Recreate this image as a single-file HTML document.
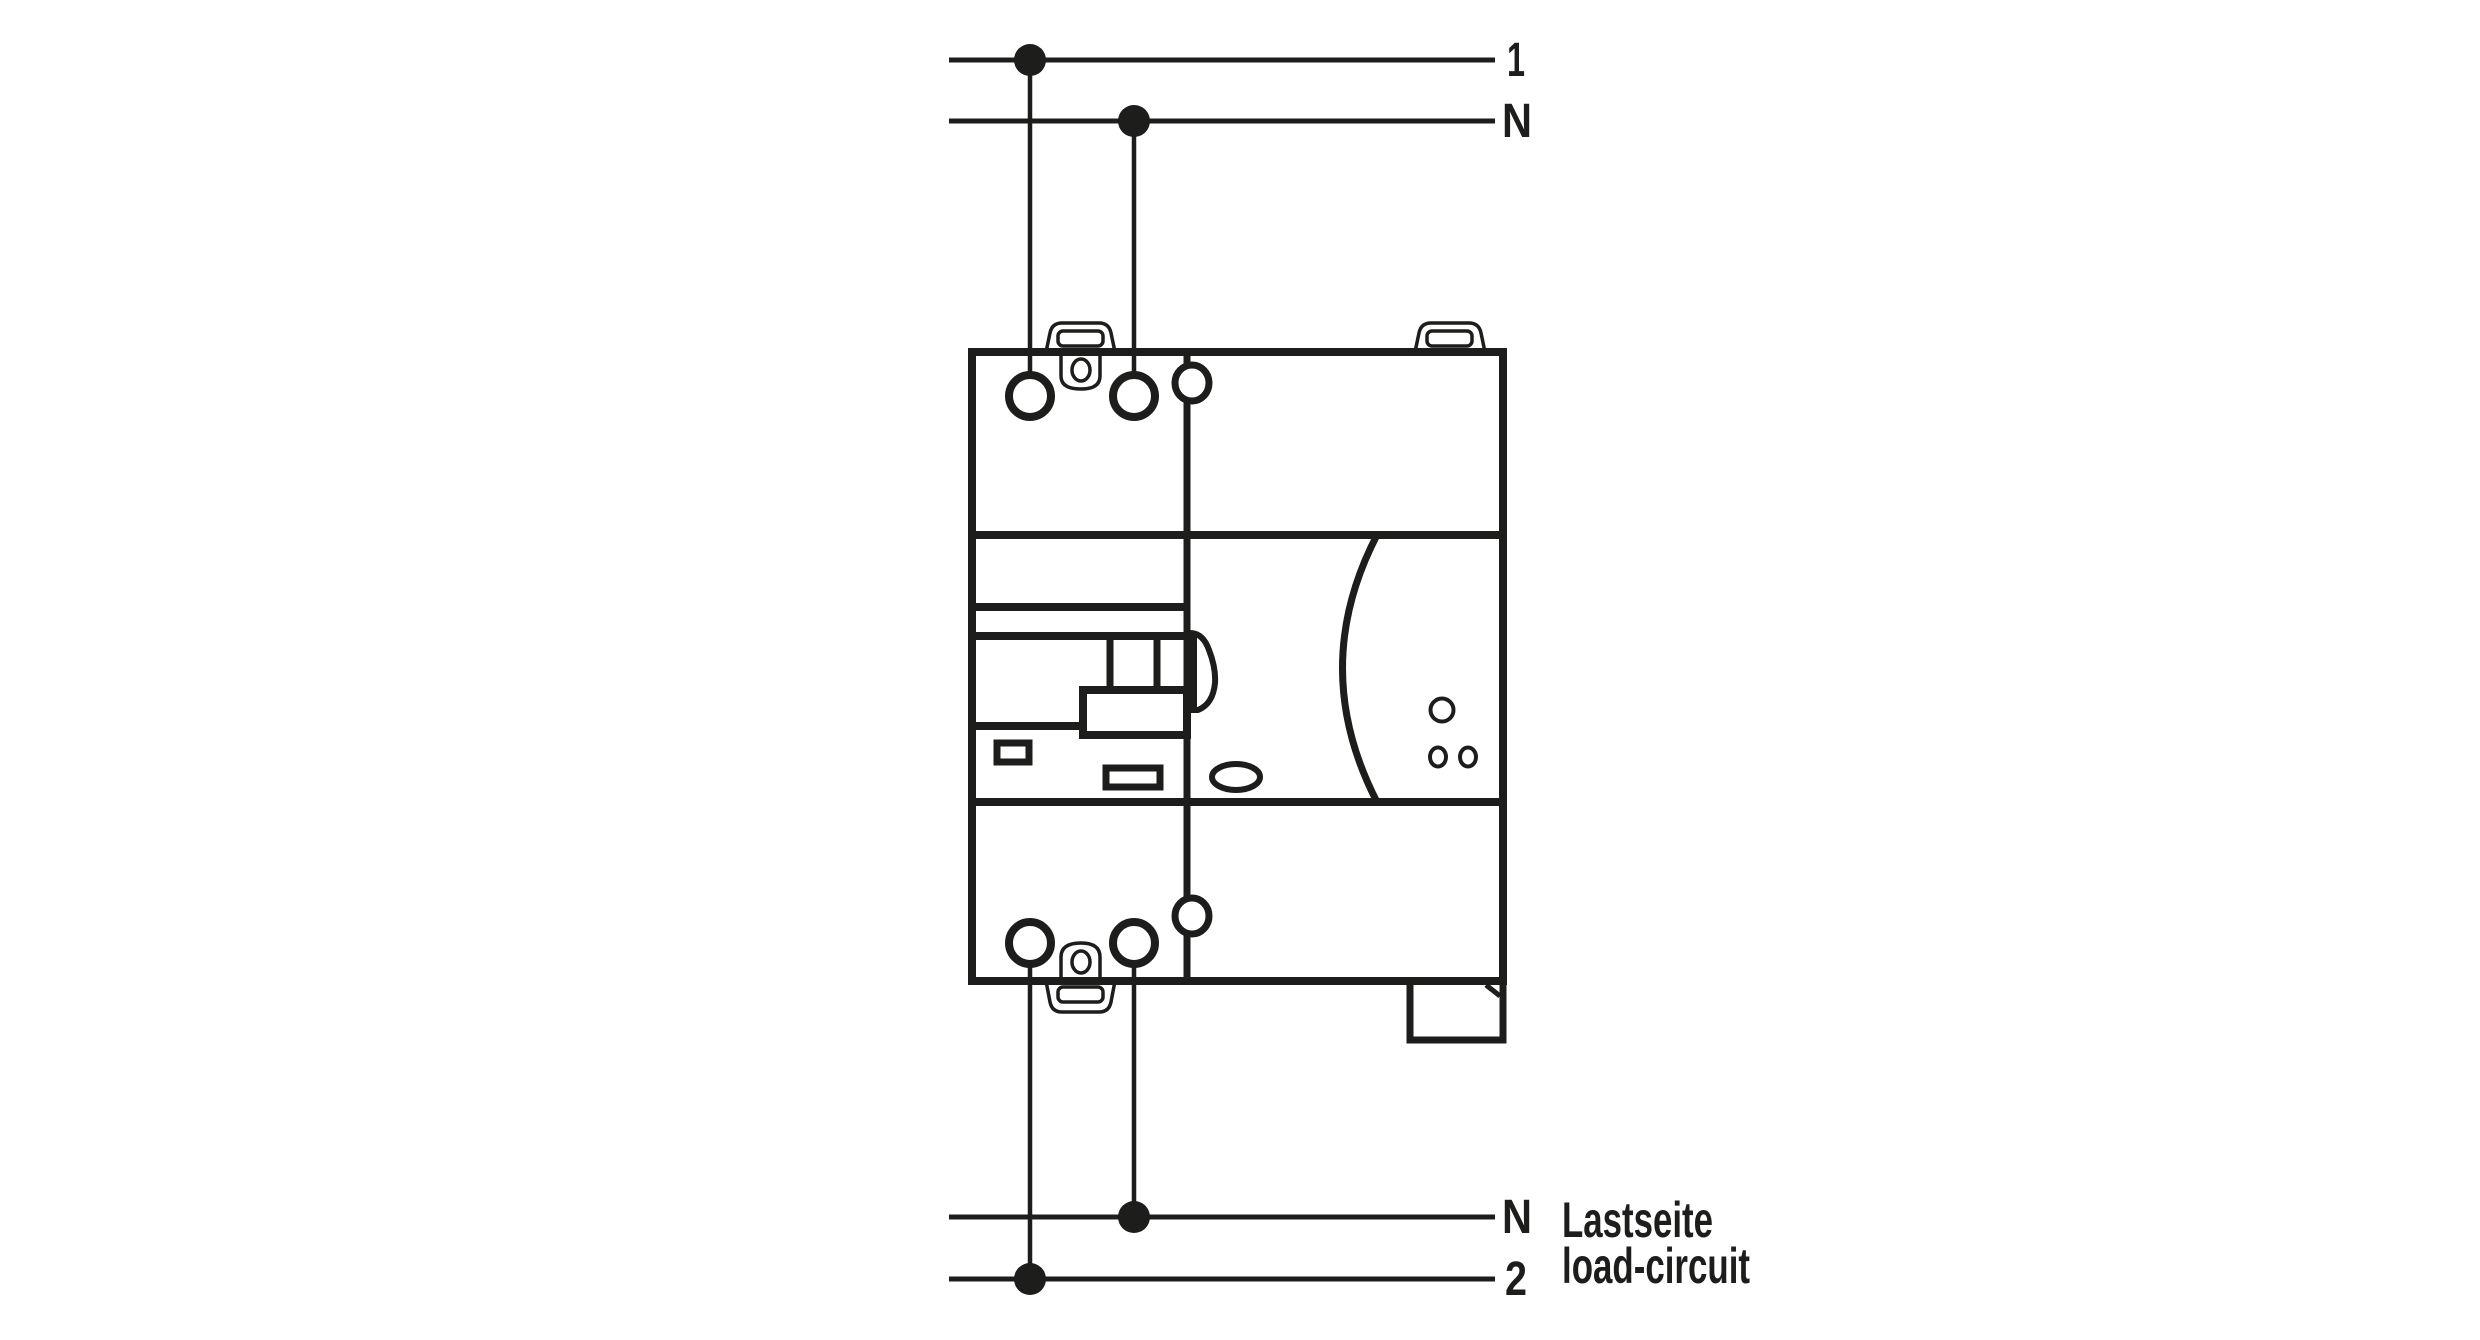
<!DOCTYPE html>
<html><head><meta charset="utf-8"><style>
html,body{margin:0;padding:0;background:#fff;}
svg{display:block;}
text{font-family:"Liberation Sans",sans-serif;font-weight:bold;fill:#1d1d1b;}
</style></head><body>
<svg width="2480" height="1340" viewBox="0 0 2480 1340" xmlns="http://www.w3.org/2000/svg">
<g stroke="#1d1d1b" fill="none">
<line x1="949" y1="60" x2="1495" y2="60" stroke-width="5"/>
<line x1="949" y1="121" x2="1495" y2="121" stroke-width="5"/>
<line x1="949" y1="1217" x2="1495" y2="1217" stroke-width="5"/>
<line x1="949" y1="1279" x2="1495" y2="1279" stroke-width="5"/>
<line x1="1030" y1="60" x2="1030" y2="373" stroke-width="4.5"/>
<line x1="1134" y1="121" x2="1134" y2="373" stroke-width="4.5"/>
<line x1="1030" y1="966" x2="1030" y2="1279" stroke-width="4.5"/>
<line x1="1134" y1="966" x2="1134" y2="1217" stroke-width="4.5"/>
<path d="M1046 352 L1050 333 Q1052 323 1062 323 L1099 323 Q1109 323 1111 333 L1115 352" stroke-width="3.5"/>
<rect x="1058" y="331" width="45" height="15" rx="5" stroke-width="3.5"/>
<path d="M1061 352 L1061 376 Q1061 389 1081 389 Q1100 389 1100 376 L1100 352" stroke-width="3.5"/>
<ellipse cx="1081" cy="370" rx="9" ry="11" stroke-width="3.5"/>
<path d="M1415 352 L1419 333 Q1421 323 1431 323 L1469 323 Q1479 323 1481 333 L1485 352" stroke-width="3.5"/>
<rect x="1427" y="331" width="45" height="15" rx="5" stroke-width="3.5"/>
<path d="M1046 981 L1050 1002 Q1052 1012 1062 1012 L1099 1012 Q1109 1012 1111 1002 L1115 981" stroke-width="3.5"/>
<rect x="1058" y="987" width="45" height="15" rx="5" stroke-width="3.5"/>
<path d="M1061 981 L1061 957 Q1061 943 1081 943 Q1100 943 1100 957 L1100 981" stroke-width="3.5"/>
<ellipse cx="1081" cy="962" rx="9" ry="11" stroke-width="3.5"/>
<rect x="972" y="352" width="531" height="629" stroke-width="8"/>
<line x1="1187" y1="352" x2="1187" y2="981" stroke-width="7"/>
<line x1="972" y1="535" x2="1503" y2="535" stroke-width="8"/>
<line x1="972" y1="802" x2="1503" y2="802" stroke-width="8"/>
<line x1="972" y1="607" x2="1187" y2="607" stroke-width="8"/>
<line x1="972" y1="636" x2="1187" y2="636" stroke-width="8"/>
<line x1="1110" y1="636" x2="1110" y2="690" stroke-width="7"/>
<line x1="1157" y1="636" x2="1157" y2="690" stroke-width="7"/>
<rect x="1083" y="690" width="104" height="45" stroke-width="8"/>
<line x1="972" y1="726" x2="1083" y2="726" stroke-width="8"/>
<rect x="997" y="743" width="32" height="19" stroke-width="7"/>
<rect x="1106" y="768" width="54" height="19" stroke-width="7"/>
<path d="M1190 633 Q1203 633 1209 650 Q1216 668 1215 683 Q1213 704 1198 710 L1190 710" stroke-width="6"/>
<rect x="1189" y="633" width="8" height="77" fill="#1d1d1b" stroke="none"/>
<ellipse cx="1236" cy="777" rx="24" ry="13" stroke-width="6"/>
<path d="M1377 535 Q1308 668 1377 802" stroke-width="7"/>
<circle cx="1442" cy="710" r="11.5" stroke-width="4"/>
<ellipse cx="1438" cy="757" rx="8" ry="9.5" stroke-width="4"/>
<ellipse cx="1468" cy="757" rx="8" ry="9.5" stroke-width="4"/>
<path d="M1410 981 L1410 1040 L1503 1040 L1503 985" stroke-width="7"/>
<line x1="1486" y1="985" x2="1500" y2="996" stroke-width="5"/>
<circle cx="1030" cy="396" r="21" fill="#fff" stroke-width="8"/>
<circle cx="1134" cy="396" r="21" fill="#fff" stroke-width="8"/>
<circle cx="1030" cy="943" r="21" fill="#fff" stroke-width="8"/>
<circle cx="1134" cy="943" r="21" fill="#fff" stroke-width="8"/>
<ellipse cx="1192" cy="383" rx="17" ry="18" fill="#fff" stroke-width="7"/>
<ellipse cx="1192" cy="916" rx="17" ry="18" fill="#fff" stroke-width="7"/>
</g>
<g fill="#1d1d1b">
<circle cx="1030" cy="60" r="16"/>
<circle cx="1134" cy="121" r="16"/>
<circle cx="1134" cy="1217" r="16"/>
<circle cx="1030" cy="1279" r="16"/>
</g>
<text x="1507" y="76" font-size="48" textLength="18" lengthAdjust="spacingAndGlyphs">1</text>
<text x="1502" y="137" font-size="48" textLength="30" lengthAdjust="spacingAndGlyphs">N</text>
<text x="1502" y="1233" font-size="48" textLength="30" lengthAdjust="spacingAndGlyphs">N</text>
<text x="1505" y="1295" font-size="48" textLength="22" lengthAdjust="spacingAndGlyphs">2</text>
<text x="1562" y="1237" font-size="50" textLength="151" lengthAdjust="spacingAndGlyphs">Lastseite</text>
<text x="1562" y="1283" font-size="50" textLength="188" lengthAdjust="spacingAndGlyphs">load-circuit</text>
</svg>
</body></html>
